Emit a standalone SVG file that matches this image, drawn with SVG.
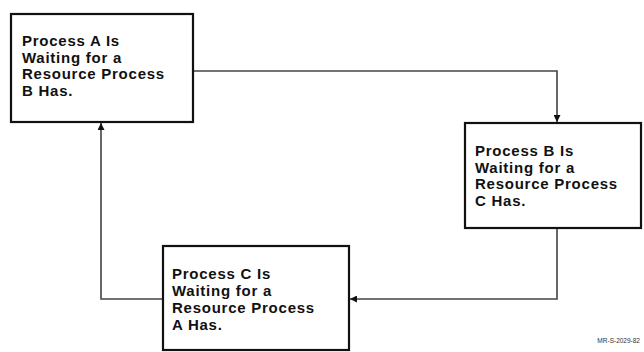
<svg xmlns="http://www.w3.org/2000/svg" width="644" height="352" viewBox="0 0 644 352">
  <style>
    .box { fill: #ffffff; stroke: #111111; stroke-width: 2.2; }
    .lbl { font-family: "Liberation Sans", Arial, sans-serif; font-weight: bold; font-size: 15px; letter-spacing: 0.75px; fill: #111111; }
    .conn { fill: none; stroke: #444444; stroke-width: 1.6; }
    .note { font-family: "Liberation Sans", Arial, sans-serif; font-size: 6.5px; fill: #333333; }
  </style>
  <defs>
    <marker id="arr" viewBox="0 0 10 10" refX="10" refY="5" markerWidth="7" markerHeight="7" markerUnits="userSpaceOnUse" orient="auto">
      <path d="M0,0 L10,5 L0,10 Z" fill="#111111"/>
    </marker>
  </defs>
  <rect width="644" height="352" fill="#ffffff"/>
  <g id="connectors">
    <path class="conn" d="M193,71 H557 V122" marker-end="url(#arr)"/>
    <path class="conn" d="M557,228 V299 H350" marker-end="url(#arr)"/>
    <path class="conn" d="M163,299 H101 V123" marker-end="url(#arr)"/>
  </g>
  <g id="nodeA">
    <rect class="box" x="11" y="14" width="182" height="108"/>
    <text class="lbl" x="22" y="46">Process A Is</text>
    <text class="lbl" x="22" y="62.5">Waiting for a</text>
    <text class="lbl" x="22" y="79">Resource Process</text>
    <text class="lbl" x="22" y="95.5">B Has.</text>
  </g>
  <g id="nodeB">
    <rect class="box" x="465" y="123" width="176" height="105"/>
    <text class="lbl" x="475" y="156">Process B Is</text>
    <text class="lbl" x="475" y="172.5">Waiting for a</text>
    <text class="lbl" x="475" y="189">Resource Process</text>
    <text class="lbl" x="475" y="205.5">C Has.</text>
  </g>
  <g id="nodeC">
    <rect class="box" x="163" y="246" width="186" height="104"/>
    <text class="lbl" x="172" y="279">Process C Is</text>
    <text class="lbl" x="172" y="296">Waiting for a</text>
    <text class="lbl" x="172" y="313">Resource Process</text>
    <text class="lbl" x="172" y="330">A Has.</text>
  </g>
  <text class="note" x="640" y="343" text-anchor="end">MR-S-2029-82</text>
</svg>
